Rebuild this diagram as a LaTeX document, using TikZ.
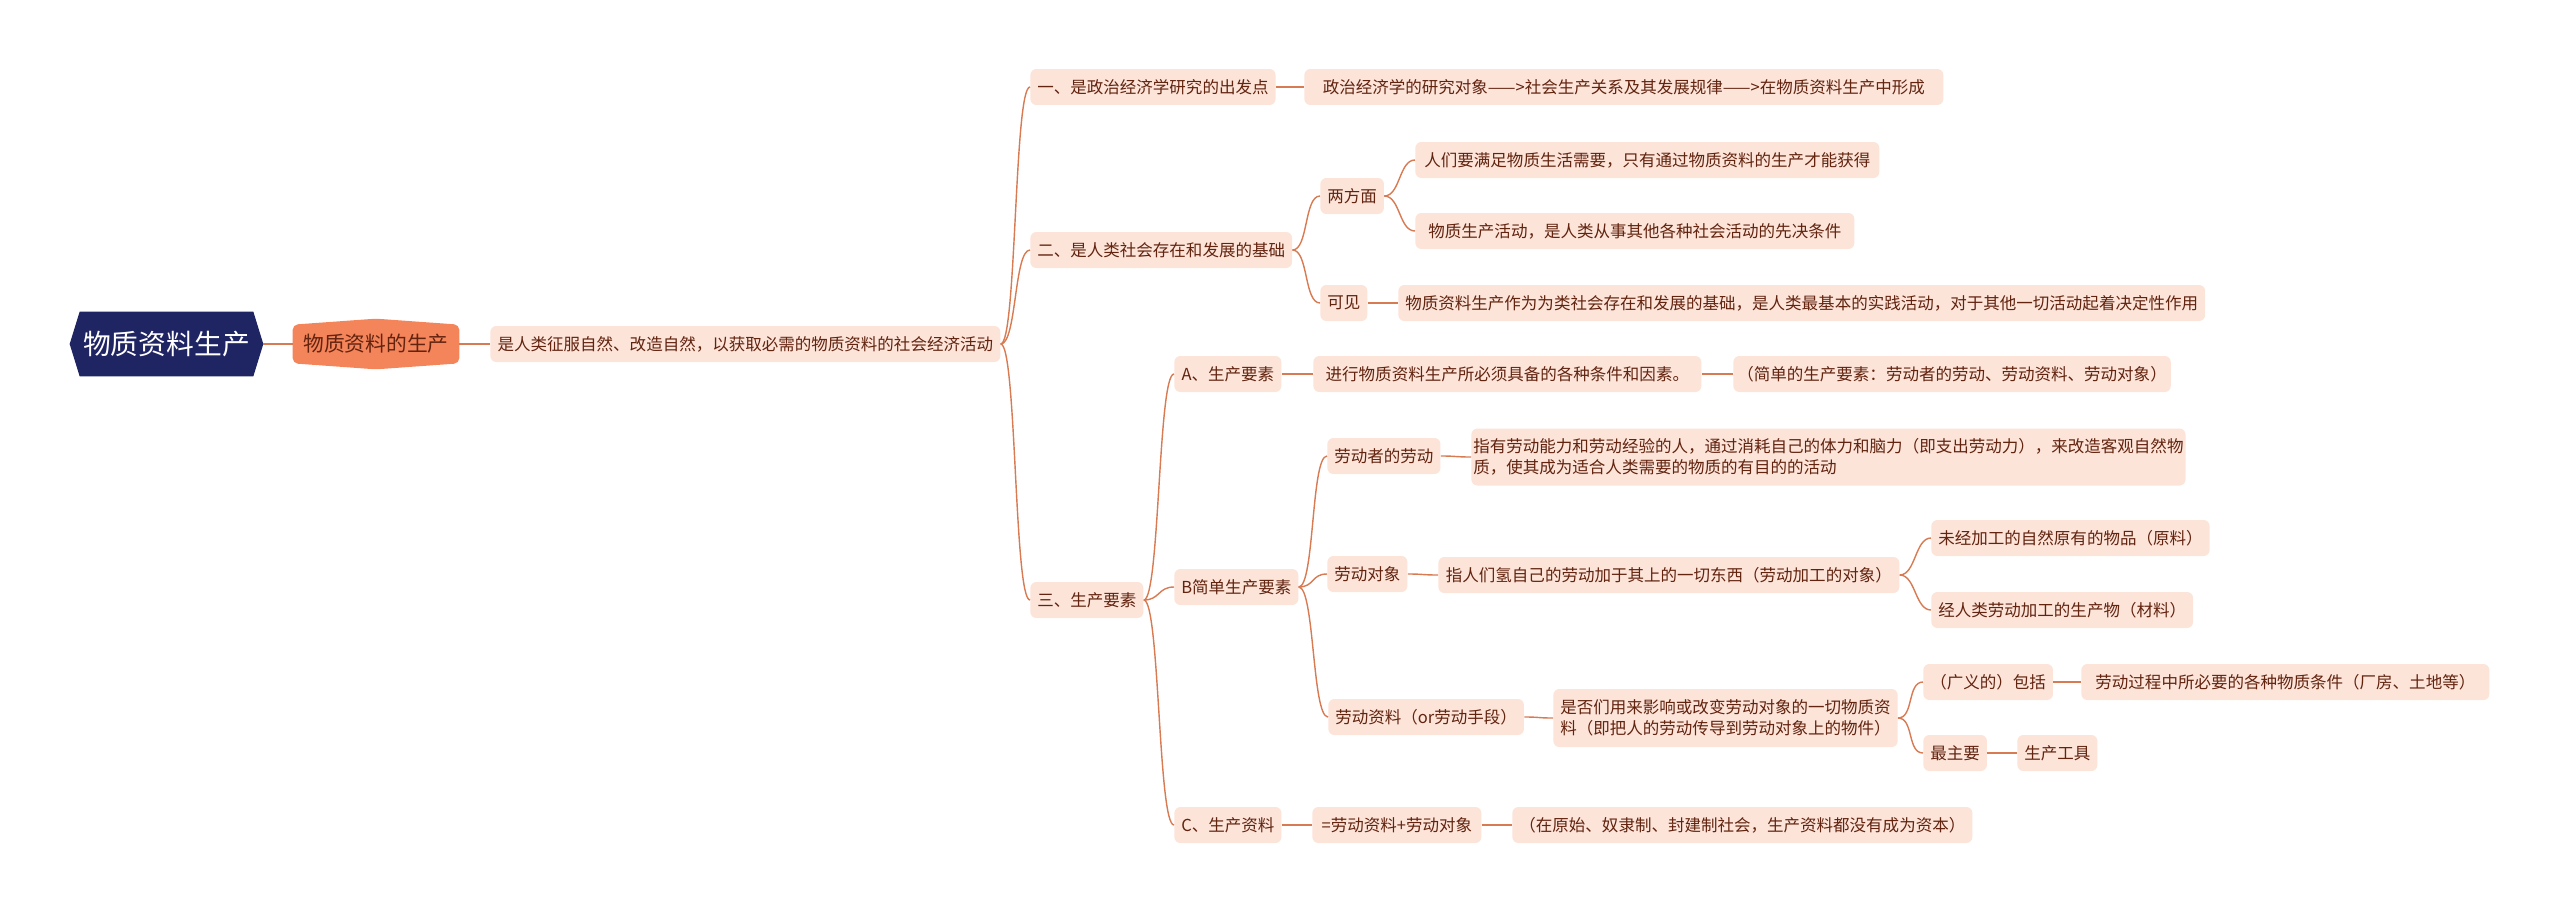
\documentclass[tikz,border=0pt]{standalone}
\usepackage{fontspec}
\newfontfamily\cjk{Noto Sans CJK SC}
\usetikzlibrary{backgrounds}
\definecolor{rootc}{HTML}{1F2463}
\definecolor{mainc}{HTML}{F4845A}
\definecolor{leafc}{HTML}{FCE4D9}
\definecolor{linec}{HTML}{D87A52}
\definecolor{txtc}{HTML}{62230F}
\tikzset{
  leaf/.style={anchor=west, fill=leafc, text=txtc, rounded corners=0.12cm,
    minimum height=0.72cm, inner xsep=0.14cm, inner ysep=0.1cm, align=left,
    font=\cjk\fontsize{9.4}{12}\selectfont},
  bw/.style={minimum width=#1*0.02cm},
  link/.style={draw=linec, line width=0.8pt},
}

\begin{document}
\begin{tikzpicture}[x=0.02cm,y=-0.02cm]
  \useasboundingbox (0,0) rectangle (2560,913);
  \node[text=white, minimum width=3.46cm, minimum height=1.28cm, inner sep=0pt,
    font=\cjk\fontsize{15.8}{18}\selectfont] (root) at (166.5,344) {物质资料生产};
  \node[text=txtc, minimum width=3.32cm, minimum height=0.76cm, inner sep=0pt,
    font=\cjk\fontsize{11.8}{14}\selectfont] (n1) at (376,344) {物质资料的生产};
  \begin{scope}[on background layer]
    \fill[rootc] (root.north west) -- (root.north east) -- ([xshift=0.2cm]root.east)
      -- (root.south east) -- (root.south west) -- ([xshift=-0.2cm]root.west) -- cycle;
    \fill[mainc, rounded corners=3pt] (n1.north west) -- ([yshift=0.12cm]n1.north)
      -- (n1.north east) -- (n1.south east) -- ([yshift=-0.12cm]n1.south)
      -- (n1.south west) -- cycle;
  \end{scope}
  \coordinate (rootr) at ([xshift=0.2cm]root.east);

  \node[leaf, bw=510] (n2) at (490,344) {是人类征服自然、改造自然，以获取必需的物质资料的社会经济活动};

  \node[leaf, bw=242] (a1) at (1030,87) {一、是政治经济学研究的出发点};
  \node[leaf, bw=639] (b1) at (1304,87) {政治经济学的研究对象——>社会生产关系及其发展规律——>在物质资料生产中形成};

  \node[leaf, bw=258] (a2) at (1030,250) {二、是人类社会存在和发展的基础};
  \node[leaf, bw=63] (b2) at (1320,196) {两方面};
  \node[leaf, bw=464] (c1) at (1415,160) {人们要满足物质生活需要，只有通过物质资料的生产才能获得};
  \node[leaf, bw=439] (c2) at (1415,231) {物质生产活动，是人类从事其他各种社会活动的先决条件};
  \node[leaf, bw=47] (b3) at (1320,303) {可见};
  \node[leaf, bw=799] (c3) at (1398,303) {物质资料生产作为为类社会存在和发展的基础，是人类最基本的实践活动，对于其他一切活动起着决定性作用};

  \node[leaf, bw=112] (a3) at (1030,600) {三、生产要素};
  \node[leaf, bw=107] (b4) at (1174,374) {A、生产要素};
  \node[leaf, bw=388] (c4) at (1313,374) {进行物质资料生产所必须具备的各种条件和因素。};
  \node[leaf, bw=435, inner xsep=0.08cm] (d1) at (1733,374) {（简单的生产要素：劳动者的劳动、劳动资料、劳动对象）};

  \node[leaf, bw=122] (b5) at (1174,587) {B简单生产要素};
  \node[leaf, bw=112] (c5) at (1327,456) {劳动者的劳动};
  \node[leaf, bw=710, minimum height=1.14cm, inner xsep=0.04cm] (d2) at (1471,457) {指有劳动能力和劳动经验的人，通过消耗自己的体力和脑力（即支出劳动力），来改造客观自然物\\质，使其成为适合人类需要的物质的有目的的活动};
  \node[leaf, bw=79] (c6) at (1327,574) {劳动对象};
  \node[leaf, bw=461] (d3) at (1438,575) {指人们氢自己的劳动加于其上的一切东西（劳动加工的对象）};
  \node[leaf, bw=273] (e1) at (1931,538) {未经加工的自然原有的物品（原料）};
  \node[leaf, bw=257] (e2) at (1931,610) {经人类劳动加工的生产物（材料）};
  \node[leaf, bw=193] (c7) at (1328,717) {劳动资料（or劳动手段）};
  \node[leaf, bw=338, minimum height=1.16cm] (d4) at (1553,718) {是否们用来影响或改变劳动对象的一切物质资\\料（即把人的劳动传导到劳动对象上的物件）};
  \node[leaf, bw=127] (e3) at (1923,682) {（广义的）包括};
  \node[leaf, bw=408] (f1) at (2081,682) {劳动过程中所必要的各种物质条件（厂房、土地等）};
  \node[leaf, bw=62] (e4) at (1923,753) {最主要};
  \node[leaf, bw=79] (f2) at (2017,753) {生产工具};

  \node[leaf, bw=107] (b6) at (1174,825) {C、生产资料};
  \node[leaf, bw=169] (c8) at (1312,825) {=劳动资料+劳动对象};
  \node[leaf, bw=460] (d5) at (1512,825) {（在原始、奴隶制、封建制社会，生产资料都没有成为资本）};

  \draw[link, line width=1.1pt] (rootr) -- (n1.west);
  \draw[link, line width=1.1pt] (n1.east) -- (n2.west);
  \foreach \a/\b in {n2/a1,n2/a2,n2/a3,a1/b1,a2/b2,a2/b3,b2/c1,b2/c2,b3/c3,
    a3/b4,a3/b5,a3/b6,b4/c4,c4/d1,b5/c5,b5/c6,b5/c7,c5/d2,c6/d3,d3/e1,d3/e2,
    c7/d4,d4/e3,d4/e4,e3/f1,e4/f2,b6/c8,c8/d5}
    \draw[link] (\a.east) .. controls +(16,0) and +(-16,0) .. (\b.west);
\end{tikzpicture}
\end{document}
